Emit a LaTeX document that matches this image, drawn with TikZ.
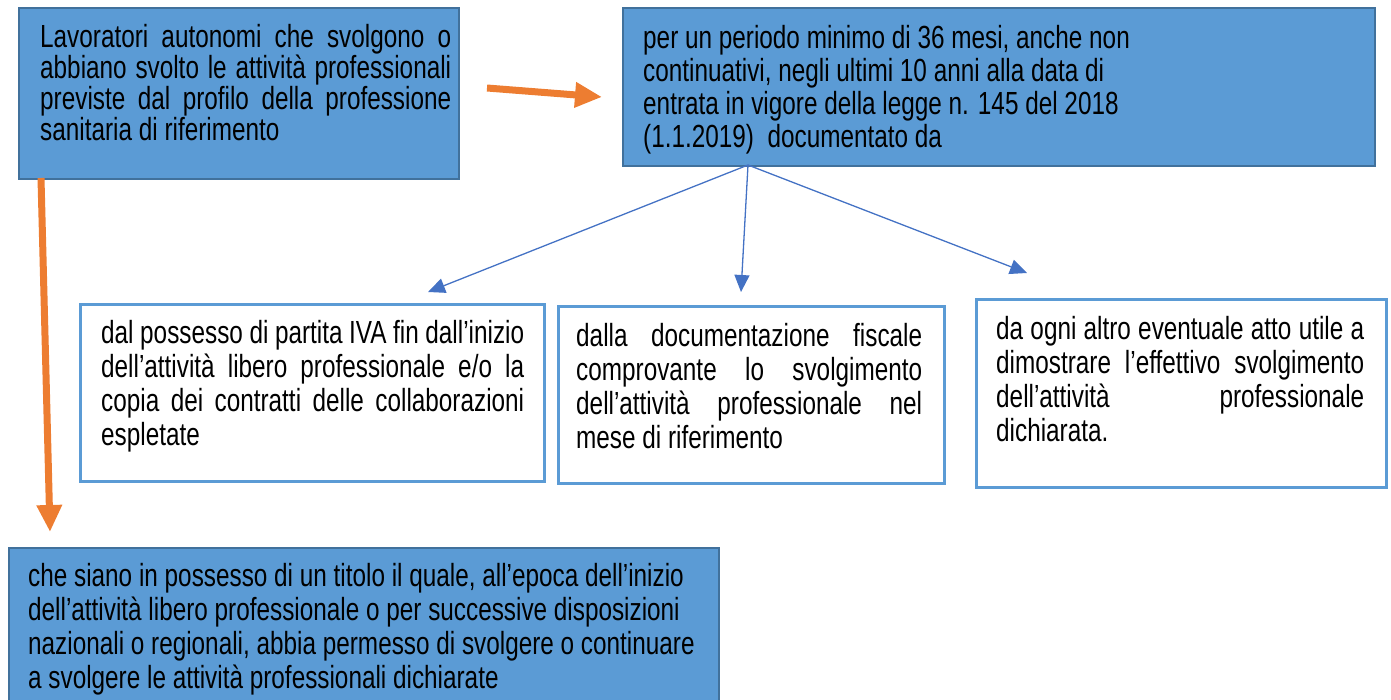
\documentclass[tikz,border=0pt]{standalone}
\usepackage{fontspec}
\setmainfont{Liberation Sans}[FakeStretch=0.76]
\usetikzlibrary{arrows.meta}
\definecolor{azzurro}{HTML}{5B9BD5}
\definecolor{bordo}{HTML}{41719C}
\definecolor{arancio}{HTML}{ED7D31}
\definecolor{freccia}{HTML}{4472C4}
\hyphenpenalty=10000 \exhyphenpenalty=10000 \tolerance=10000 \hbadness=10000

\begin{document}
\begin{tikzpicture}[x=1pt,y=-1pt,line join=miter,font=\fontsize{32}{34}\selectfont,
	pieno/.style={draw=bordo,fill=azzurro,line width=2pt,inner sep=0pt,anchor=north west},
	vuoto/.style={draw=azzurro,line width=2.5pt,inner sep=0pt,anchor=north west},
	testo/.style={anchor=base west,inner sep=0pt,align=justify},
	sinistra/.style={anchor=base west,inner sep=0pt,align=flush left},
	arancio/.style={draw=arancio,line width=7pt,-{Triangle[length=27pt,width=24pt]}},
	blu/.style={draw=freccia,line width=1.3pt,-{Triangle[length=17pt,width=15pt]}}]
	\useasboundingbox (0,0) rectangle (1391,699);
	% riquadri
	\node[pieno,minimum width=440pt,minimum height=171pt] (lavoratori) at (18,7) {};
	\node[pieno,minimum width=752pt,minimum height=158pt] (periodo) at (622,7) {};
	\node[vuoto,minimum width=464pt,minimum height=177pt] (possesso) at (79,303) {};
	\node[vuoto,minimum width=386pt,minimum height=177pt] (fiscale) at (557,305) {};
	\node[vuoto,minimum width=410pt,minimum height=188pt] (altroatto) at (975,298) {};
	\node[pieno,minimum width=710pt,minimum height=170pt] (titolo) at (8,547) {};
	% testi
	\node[testo,text width=411pt,font=\fontsize{32}{31}\selectfont] (lavoratori-t) at (40,47)
		{Lavoratori autonomi che svolgono o\linebreak abbiano svolto le attività professionali\linebreak previste dal profilo della professione\linebreak sanitaria di riferimento};
	\node[sinistra,text width=720pt,font=\fontsize{32}{33}\selectfont] (periodo-t) at (643,48)
		{per un periodo minimo di 36 mesi, anche non\\ continuativi, negli ultimi 10 anni alla data di\\ entrata in vigore della legge n. 145 del 2018\\ (1.1.2019)\ \ documentato da};
	\node[testo,text width=423pt] (possesso-t) at (101,343)
		{dal possesso di partita IVA fin dall’inizio\linebreak dell’attività libero professionale e/o la\linebreak copia dei contratti delle collaborazioni\linebreak espletate};
	\node[testo,text width=346pt] (fiscale-t) at (576,346)
		{dalla documentazione fiscale\linebreak comprovante lo svolgimento\linebreak dell’attività professionale nel\linebreak mese di riferimento};
	\node[testo,text width=368pt] (altroatto-t) at (996,339)
		{da ogni altro eventuale atto utile a\linebreak dimostrare l’effettivo svolgimento\linebreak dell’attività professionale\linebreak dichiarata.};
	\node[sinistra,text width=690pt] (titolo-t) at (28,586)
		{che siano in possesso di un titolo il quale, all’epoca dell’inizio\\ dell’attività libero professionale o per successive disposizioni\\ nazionali o regionali, abbia permesso di svolgere o continuare\\ a svolgere le attività professionali dichiarate};
	% frecce
	\coordinate (verso-periodo) at (487,88);
	\coordinate (punta-periodo) at (602,97);
	\coordinate (verso-titolo) at (41,178);
	\coordinate (punta-titolo) at (50,532);
	\coordinate (diramazione) at (748,165);
	\coordinate (punta-possesso) at (428,292);
	\coordinate (punta-fiscale) at (741,292);
	\coordinate (punta-altroatto) at (1027,273);
	\draw[arancio] (verso-periodo) -- (punta-periodo);
	\draw[arancio] (verso-titolo) -- (punta-titolo);
	\draw[blu] (diramazione) -- (punta-possesso);
	\draw[blu] (diramazione) -- (punta-fiscale);
	\draw[blu] (diramazione) -- (punta-altroatto);
\end{tikzpicture}
\end{document}
